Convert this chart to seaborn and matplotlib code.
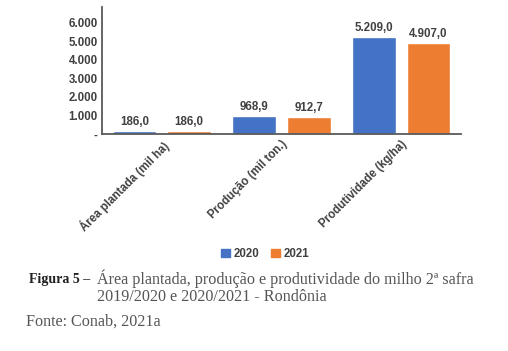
import pandas as pd
import seaborn as sns
import matplotlib.pyplot as plt
from matplotlib.ticker import FuncFormatter, MultipleLocator

# Dados do gráfico
categorias = ["Área plantada (mil ha)", "Produção (mil ton.)", "Produtividade (kg/ha)"]
valores_2020 = [186.0, 968.9, 5209.0]
valores_2021 = [186.0, 912.7, 4907.0]
anos = ["2020", "2021"]
cores = ["#4472C4", "#ED7D31"]

df = pd.DataFrame({
    "categoria": categorias * 2,
    "ano": [anos[0]] * 3 + [anos[1]] * 3,
    "valor": valores_2020 + valores_2021,
})

sns.set_theme(style="white")
plt.rcParams["font.family"] = ["Liberation Sans", "DejaVu Sans"]


def br(v, dec=1):
    s = f"{v:,.{dec}f}"
    return s.replace(",", "X").replace(".", ",").replace("X", ".")


fig = plt.figure(figsize=(5.08, 3.51), dpi=100)
ax = fig.add_axes([102 / 508, 1 - 134 / 351, 359 / 508, 127 / 351])

sns.barplot(
    data=df, x="categoria", y="valor", hue="ano",
    palette=cores, saturation=1, width=0.91, gap=0.2, ax=ax, legend=False,
)

ax.set_ylim(0, 6830)
ax.yaxis.set_major_locator(MultipleLocator(1000))
ax.yaxis.set_major_formatter(FuncFormatter(lambda v, p: "-" if v == 0 else br(v, 0)))
ax.set_xlabel("")
ax.set_ylabel("")

for c in ax.containers:
    ax.bar_label(c, labels=[br(v) for v in c.datavalues], padding=2,
                 fontsize=8.3, fontweight="bold", color="#404040")

ax.tick_params(axis="y", length=0, pad=3, labelsize=8.3, labelcolor="#404040")
ax.tick_params(axis="x", length=0, pad=3, labelsize=8.3, labelcolor="#404040")
for lbl in ax.get_yticklabels():
    lbl.set_fontweight("bold")
for lbl in ax.get_xticklabels():
    lbl.set_fontweight("bold")
    lbl.set_rotation(45)
    lbl.set_ha("right")
    lbl.set_rotation_mode("anchor")

sns.despine(ax=ax)
for s in ["left", "bottom"]:
    ax.spines[s].set_color("#595959")
    ax.spines[s].set_linewidth(1.3)

# Legenda
handles = [plt.Rectangle((0, 0), 1, 1, color=c) for c in cores]
leg = fig.legend(handles, anos, loc="center", bbox_to_anchor=(265 / 508, 1 - 254 / 351),
                 ncol=2, frameon=False, handlelength=0.8, handleheight=0.8,
                 handletextpad=0.3, columnspacing=1.0,
                 prop={"weight": "bold", "size": 8.3})
for t in leg.get_texts():
    t.set_color("#404040")

# Legenda da figura
serif = ["Liberation Serif", "DejaVu Serif"]
fig.text(29 / 508, 1 - 279 / 351, "Figura 5 –", family=serif, fontsize=10,
         fontweight="bold", color="#222222", va="center")
fig.text(97 / 508, 1 - 279 / 351,
         "Área plantada, produção e produtividade do milho 2ª safra",
         family=serif, fontsize=11.6, color="#555555", va="center")
fig.text(97 / 508, 1 - 297 / 351, "2019/2020 e 2020/2021 - Rondônia",
         family=serif, fontsize=11.6, color="#555555", va="center")
fig.text(26 / 508, 1 - 322 / 351, "Fonte: Conab, 2021a",
         family=serif, fontsize=11.6, color="#555555", va="center")

plt.savefig("out.png", dpi=100)
